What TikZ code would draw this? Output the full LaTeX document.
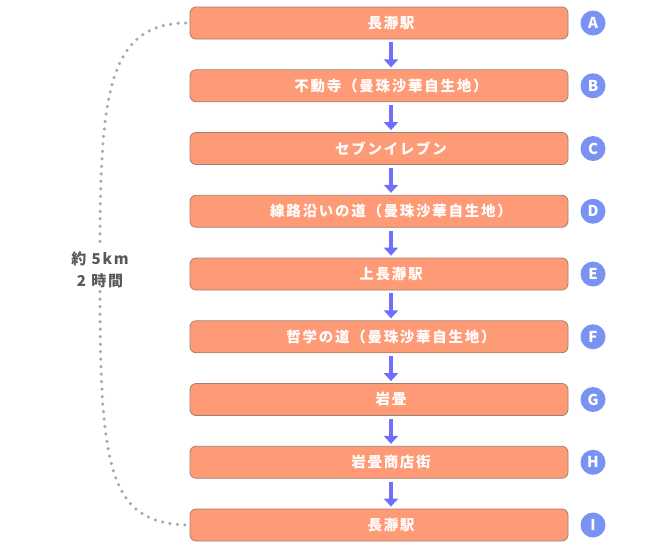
\documentclass[tikz,border=0pt]{standalone}
\usepackage{fontspec}
\setmainfont{Noto Sans CJK JP}[LetterSpace=12]
\usetikzlibrary{arrows.meta}
\definecolor{boxfill}{HTML}{FF9A77}
\definecolor{boxline}{HTML}{A08070}
\definecolor{circ}{HTML}{7A92F2}
\definecolor{arr}{HTML}{6E6EFF}
\definecolor{dotc}{HTML}{A8A8A8}
\tikzset{
  stop/.style={draw=boxline, line width=0.8pt, fill=boxfill, rounded corners=6pt,
    minimum width=378pt, minimum height=32pt, inner sep=0pt, text=white,
    font=\fontsize{14.5pt}{15pt}\selectfont\bfseries},
  lab/.style={circle, fill=circ, minimum size=25pt, inner sep=0pt, text=white,
    font=\fontsize{15pt}{15pt}\selectfont\bfseries},
  nextarrow/.style={-{Triangle[length=8pt,width=14pt]}, arr, line width=3.5pt, shorten <=3pt, shorten >=2pt},
  route/.style={dotc, line width=3.5pt, line cap=round, dash pattern=on 0pt off 7.5pt}
}
\begin{document}
\begin{tikzpicture}[x=1pt,y=-1pt]
\useasboundingbox (0,0) rectangle (670,550);
\foreach \n/\t/\l [count=\i from 0] in {
  a/長瀞駅/A, b/不動寺（曼珠沙華自生地）/B, c/セブンイレブン/C,
  d/線路沿いの道（曼珠沙華自生地）/D, e/上長瀞駅/E, f/哲学の道（曼珠沙華自生地）/F,
  g/岩畳/G, h/岩畳商店街/H, i/長瀞駅/I}{
  \node[stop] (\n) at (379,{23+62.75*\i}) {\hspace*{24pt}\t};
  \node[lab] (l\n) at (593,{23+62.75*\i}) {\l};
}
\foreach \p/\q in {a/b,b/c,c/d,d/e,e/f,f/g,g/h,h/i}{
  \draw[nextarrow] ([xshift=12pt]\p.south) -- ([xshift=12pt]\q.north);
}
\node[text=black!65, align=center, font=\fontsize{15pt}{22pt}\selectfont\bfseries] (km) at (100,270) {約 5km\\2 時間};
\coordinate (ta) at ([xshift=-4pt]a.west);
\coordinate (ti) at ([xshift=-4pt]i.west);
\draw[route] (ta) .. controls (110,24) and (100,90) .. (km.north);
\draw[route] (km.south) .. controls (100,470) and (110,522) .. (ti);
\end{tikzpicture}
\end{document}
